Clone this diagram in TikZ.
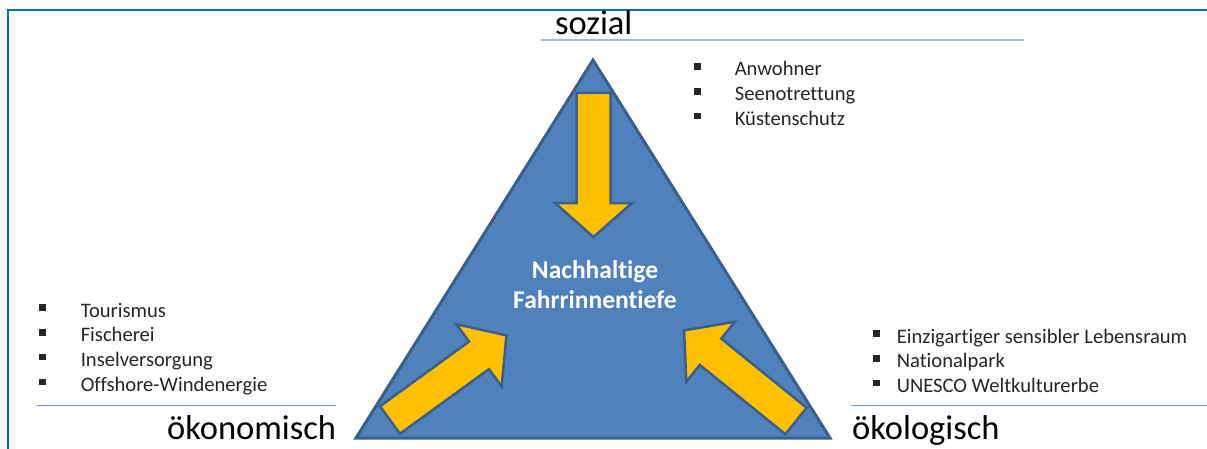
\documentclass[tikz,border=0pt]{standalone}
\usepackage{fontspec}
\setmainfont[Ligatures=NoCommon]{Carlito}
\usepackage{array}
\definecolor{triblue}{HTML}{4F81BD}
\definecolor{triedge}{HTML}{3A5F8B}
\definecolor{arrowgold}{HTML}{FFC000}
\definecolor{framecol}{HTML}{0070C0}
\definecolor{rulelight}{HTML}{A3BCDC}
\definecolor{rulemid}{HTML}{6F95C8}
\tikzset{
frame/.style={draw=framecol,line width=2.5pt},
tri/.style={fill=triblue,draw=triedge,line width=3pt,line join=miter},
arrowbody/.style={fill=arrowgold,draw=triedge,line width=2.5pt,line join=miter},
fatarrow/.pic={\path[arrowbody] (0,-17) -- (110,-17) -- (110,-38.5) -- (144,0) -- (110,38.5) -- (110,17) -- (0,17) -- cycle;},
dimension/.style={font=\fontsize{34.5}{38}\selectfont,inner sep=0pt},
centretext/.style={font=\fontsize{25.5}{30}\selectfont\bfseries,text=white,align=center,inner sep=0pt},
bulletlist/.style={font=\fontsize{20.6}{24.8}\selectfont,inner sep=0pt,text=black!85},
baseline rule/.style={rulemid,line width=1pt},
topline rule/.style={rulelight,line width=2pt}
}
\newcommand{\sqb}{\rule[0.3em]{0.32em}{0.32em}}

\begin{document}
\begin{tikzpicture}[x=1pt,y=1pt]
\useasboundingbox (0,0) rectangle (1207,448);
% outer frame, only top and left edges are visible
\draw[frame] (8,-5) |- (1212,438);

% the triangle
\coordinate (apex) at (593,388);
\coordinate (bl) at (356,10);
\coordinate (br) at (830,10);
\path[tri] (apex) -- (bl) -- (br) -- cycle;

% the three arrows pointing inward
\pic[rotate=-90] at (593.5,355) {fatarrow};
\pic[rotate=36] at (390,28) {fatarrow};
\pic[rotate=141] at (796,27) {fatarrow};

\node[centretext] (ziel) at (595,163) {Nachhaltige\\Fahrrinnentiefe};

% rules under the corner captions
\coordinate (t1) at (541,408);
\coordinate (t2) at (1024,408);
\draw[topline rule] (t1) -- (t2);
\coordinate (l1) at (37,43);
\coordinate (l2) at (336,43);
\draw[baseline rule] (l1) -- (l2);
\coordinate (r1) at (851,43);
\coordinate (r2) at (1207,43);
\draw[baseline rule] (r1) -- (r2);

% corner captions
\node[dimension,anchor=base west] (sozial) at (555,413) {sozial};
\node[dimension,anchor=base west] (oekonomisch) at (167,8.5) {ökonomisch};
\node[dimension,anchor=base west] (oekologisch) at (852,8.5) {ökologisch};

% bullet lists
\node[bulletlist,anchor=base west] (sozliste) at (694,372) {%
\begin{tabular}[t]{@{}l@{\hspace{34pt}}l@{}}
\sqb & Anwohner\\
\sqb & Seenotrettung\\
\sqb & Küstenschutz
\end{tabular}};
\node[bulletlist,anchor=base west] (oekonliste) at (39,131) {%
\begin{tabular}[t]{@{}l@{\hspace{35pt}}l@{}}
\sqb & Tourismus\\
\sqb & Fischerei\\
\sqb & Inselversorgung\\
\sqb & Offshore-Windenergie
\end{tabular}};
\node[bulletlist,anchor=base west] (oekolliste) at (873,105) {%
\begin{tabular}[t]{@{}l@{\hspace{17pt}}l@{}}
\sqb & Einzigartiger sensibler Lebensraum\\
\sqb & Nationalpark\\
\sqb & UNESCO Weltkulturerbe
\end{tabular}};
\end{tikzpicture}
\end{document}
